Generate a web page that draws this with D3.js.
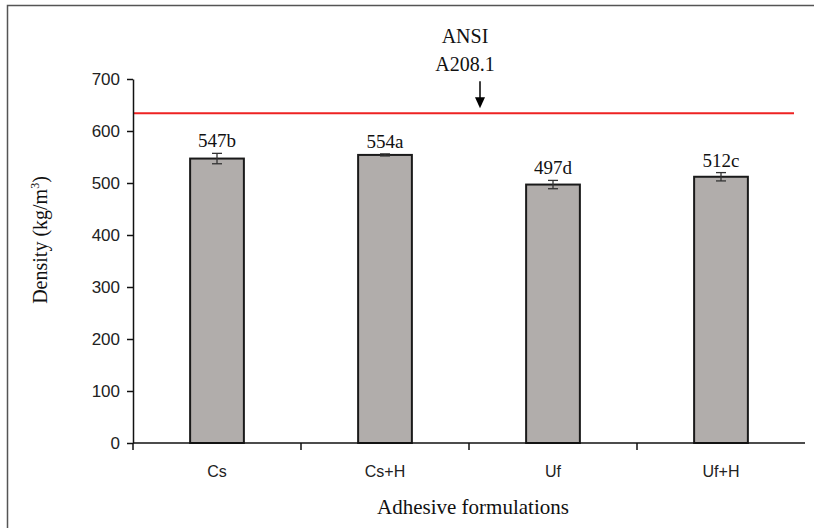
<!DOCTYPE html>
<html>
<head>
<meta charset="utf-8">
<script src="https://cdn.jsdelivr.net/npm/d3@7"></script>
<style>
  html, body { margin: 0; padding: 0; background: #fff; }
  svg { display: block; }
</style>
</head>
<body>
<svg id="chart" width="814" height="528"></svg>
<script>
// Panel density per adhesive formulation
const categories = ["Cs", "Cs+H", "Uf", "Uf+H"];
const densities = [547, 554, 497, 512];
const errors = [10, 2, 8, 8];
const groupLetters = ["b", "a", "d", "c"];
const yTicks = [0, 100, 200, 300, 400, 500, 600, 700];
const standardLevel = 634; // ANSI A208.1 minimum
const standardLabel = ["ANSI", "A208.1"];

const svg = d3.select("#chart");
const W = 814, H = 528;
const margin = { left: 133, right: 9, top: 79, bottom: 85 };
const plotW = W - margin.left - margin.right;
const plotH = H - margin.top - margin.bottom;

// outer frame
svg.append("rect")
  .attr("x", 7.5).attr("y", 5.5)
  .attr("width", W + 10).attr("height", H + 10)
  .attr("fill", "none").attr("stroke", "#555").attr("stroke-width", 1.5);

const g = svg.append("g").attr("transform", `translate(${margin.left},${margin.top})`);

const x = d3.scaleBand().domain(categories).range([0, plotW]).paddingInner(0.68).paddingOuter(0.34);
const y = d3.scaleLinear().domain([0, 700]).range([plotH, 0]);

// bars
g.selectAll("rect.bar").data(categories).join("rect")
  .attr("class", "bar")
  .attr("x", d => x(d))
  .attr("y", (d, i) => y(densities[i]))
  .attr("width", x.bandwidth())
  .attr("height", (d, i) => y(0) - y(densities[i]))
  .attr("fill", "#b1adab")
  .attr("stroke", "#1a1a1a")
  .attr("stroke-width", 2);

// error bars
const eb = g.selectAll("g.err").data(categories).join("g").attr("class", "err")
  .attr("transform", d => `translate(${x(d) + x.bandwidth() / 2},0)`);
eb.append("line")
  .attr("y1", (d, i) => y(densities[i] + errors[i]))
  .attr("y2", (d, i) => y(densities[i] - errors[i]))
  .attr("stroke", "#333").attr("stroke-width", 1.3);
eb.append("line").attr("x1", -5).attr("x2", 5)
  .attr("y1", (d, i) => y(densities[i] + errors[i]))
  .attr("y2", (d, i) => y(densities[i] + errors[i]))
  .attr("stroke", "#333").attr("stroke-width", 1.3);
eb.append("line").attr("x1", -5).attr("x2", 5)
  .attr("y1", (d, i) => y(densities[i] - errors[i]))
  .attr("y2", (d, i) => y(densities[i] - errors[i]))
  .attr("stroke", "#333").attr("stroke-width", 1.3);

// value labels with letters
g.selectAll("text.val").data(categories).join("text")
  .attr("class", "val")
  .attr("x", d => x(d) + x.bandwidth() / 2)
  .attr("y", (d, i) => y(densities[i] + errors[i]) - 6)
  .attr("text-anchor", "middle")
  .attr("font-family", "Liberation Serif, Times New Roman, serif")
  .attr("font-size", 19)
  .attr("fill", "#111")
  .text((d, i) => densities[i] + groupLetters[i]);

// standard reference line
g.append("line")
  .attr("x1", 0).attr("x2", plotW - 11)
  .attr("y1", y(standardLevel)).attr("y2", y(standardLevel))
  .attr("stroke", "#ee2222").attr("stroke-width", 2);

// arrow and label for the standard
const ax = 347;
const ay = y(standardLevel);
g.append("line").attr("x1", ax).attr("x2", ax)
  .attr("y1", ay - 32).attr("y2", ay - 12)
  .attr("stroke", "#000").attr("stroke-width", 1.5);
g.append("path")
  .attr("d", `M${ax - 5},${ay - 16} L${ax + 5},${ay - 16} L${ax},${ay - 5} Z`)
  .attr("fill", "#000");
g.append("text")
  .attr("font-family", "Liberation Serif, Times New Roman, serif")
  .attr("font-size", 20).attr("fill", "#111").attr("text-anchor", "middle")
  .selectAll("tspan").data(standardLabel).join("tspan")
  .attr("x", ax - 15)
  .attr("y", (d, i) => -36 + i * 28)
  .text(d => d);

// y axis
const yAxis = g.append("g")
  .call(d3.axisLeft(y).tickValues(yTicks).tickSize(6).tickSizeOuter(0).tickFormat(d3.format("d")));
yAxis.select(".domain").attr("stroke", "#111").attr("stroke-width", 1.5);
yAxis.selectAll(".tick line").attr("stroke", "#111").attr("stroke-width", 1.5);
yAxis.selectAll(".tick text")
  .attr("x", -13)
  .attr("font-family", "Liberation Sans, Arial, sans-serif")
  .attr("font-size", 17).attr("fill", "#222");

// x axis with ticks at category boundaries
const xAxisG = g.append("g").attr("transform", `translate(0,${plotH})`);
xAxisG.append("line").attr("x1", 0).attr("x2", plotW)
  .attr("stroke", "#111").attr("stroke-width", 1.5);
const step = x.step();
const boundaries = d3.range(categories.length).map(i => i * step);
xAxisG.selectAll("line.tk").data(boundaries).join("line")
  .attr("class", "tk")
  .attr("x1", d => d).attr("x2", d => d)
  .attr("y1", 0).attr("y2", 7)
  .attr("stroke", "#111").attr("stroke-width", 1.5);
xAxisG.selectAll("text").data(categories).join("text")
  .attr("x", d => x(d) + x.bandwidth() / 2)
  .attr("y", 34)
  .attr("text-anchor", "middle")
  .attr("font-family", "Liberation Sans, Arial, sans-serif")
  .attr("font-size", 16).attr("fill", "#222")
  .text(d => d);

// axis titles
svg.append("text")
  .attr("x", margin.left + plotW / 2 + 4).attr("y", 514)
  .attr("text-anchor", "middle")
  .attr("font-family", "Liberation Serif, Times New Roman, serif")
  .attr("font-size", 21).attr("fill", "#111")
  .text("Adhesive formulations");

const yt = svg.append("text")
  .attr("transform", `translate(47,240) rotate(-90)`)
  .attr("text-anchor", "middle")
  .attr("font-family", "Liberation Serif, Times New Roman, serif")
  .attr("font-size", 20).attr("fill", "#111");
yt.append("tspan").text("Density (kg/m");
yt.append("tspan").attr("dy", -8).attr("font-size", 12).text("3");
yt.append("tspan").attr("dy", 8).text(")");
</script>
</body>
</html>
